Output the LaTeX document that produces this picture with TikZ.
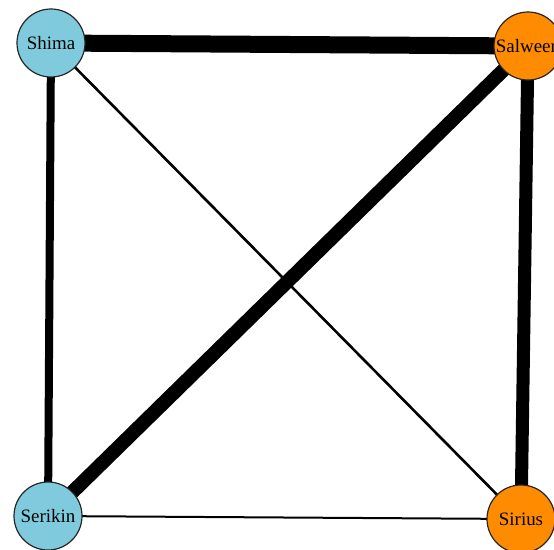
\documentclass[tikz,border=0pt]{standalone}
\usepackage{fontspec}
\setmainfont{Liberation Serif}
\usepackage{tikz}
\usetikzlibrary{backgrounds}
\definecolor{lightblue}{RGB}{127,203,221}
\definecolor{deeporange}{RGB}{255,140,0}

\begin{document}
\begin{tikzpicture}[x=1bp,y=-1bp,
  person/.style={circle,draw=black!85,line width=1.2bp,minimum size=68bp,inner sep=0pt,font=\fontsize{19}{20}\selectfont},
  tie/.style={draw=black,line cap=butt}]
  \useasboundingbox (0,0) rectangle (554,550);
  \clip (0,0) rectangle (554,550);
  % people
  \node[person,fill=lightblue] (shima) at (51,43) {Shima};
  \node[person,fill=deeporange] (salween) at (528,46) {Salween};
  \node[person,fill=lightblue] (serikin) at (48,516) {Serikin};
  \node[person,fill=deeporange] (sirius) at (521,519) {Sirius};
  % ties, thickest first
  \begin{scope}[on background layer]
    \draw[tie,line width=17bp] (shima.center) -- (salween.center);
    \draw[tie,line width=14bp] (salween.center) -- (serikin.center);
    \draw[tie,line width=13bp] (salween.center) -- (sirius.center);
    \draw[tie,line width=8bp] (shima.center) -- (serikin.center);
    \draw[tie,line width=2.6bp] (shima.center) -- (sirius.center);
    \draw[tie,line width=2bp] (serikin.center) -- (sirius.center);
  \end{scope}
\end{tikzpicture}
\end{document}
